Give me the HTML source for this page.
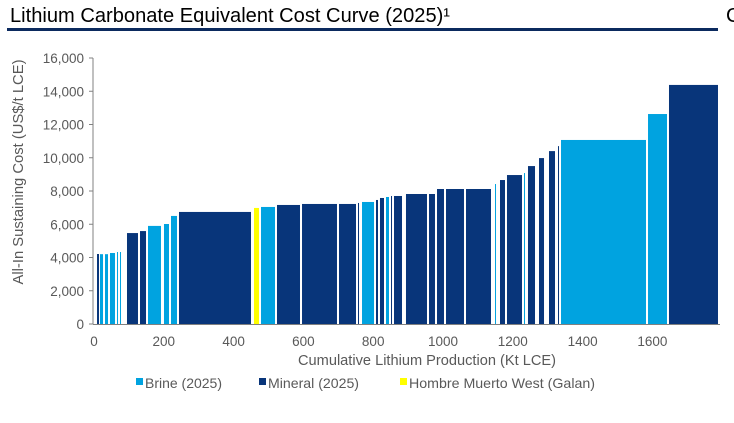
<!DOCTYPE html>
<html><head><meta charset="utf-8"><style>
body{margin:0;width:734px;height:418px;background:#fff;overflow:hidden;font-family:"Liberation Sans",sans-serif;}
</style></head><body>
<svg width="734" height="418" viewBox="0 0 734 418" xmlns="http://www.w3.org/2000/svg">
<text x="10" y="22" font-size="20" fill="#000" textLength="440" lengthAdjust="spacingAndGlyphs">Lithium Carbonate Equivalent Cost Curve (2025)¹</text>
<text x="726" y="22" font-size="20" fill="#000">C</text>
<rect x="7" y="28" width="711" height="3" fill="#0b2a5e"/>
<g id="bars"></g>
<g id="axes"></g>
<text transform="translate(23,172) rotate(-90)" text-anchor="middle" font-size="14.5" fill="#595959" textLength="225" lengthAdjust="spacingAndGlyphs">All-In Sustaining Cost (US$/t LCE)</text>
<text x="427" y="365" text-anchor="middle" font-size="14.5" fill="#595959" textLength="258" lengthAdjust="spacingAndGlyphs">Cumulative Lithium Production (Kt LCE)</text>
<g>
<g><rect x="136" y="378" width="7" height="7" fill="#00a3e0"/><text x="145" y="388" font-size="14" fill="#595959" textLength="77" lengthAdjust="spacingAndGlyphs">Brine (2025)</text></g>
<g><rect x="259" y="378" width="7" height="7" fill="#08357a"/><text x="268" y="388" font-size="14" fill="#595959" textLength="91" lengthAdjust="spacingAndGlyphs">Mineral (2025)</text></g>
<g><rect x="400" y="378" width="7" height="7" fill="#ffff00"/><text x="409" y="388" font-size="14" fill="#595959" textLength="186" lengthAdjust="spacingAndGlyphs">Hombre Muerto West (Galan)</text></g>
</g>
</svg>
<script>
const starts=[11.5,20,34.4,48.7,68.8,77.4,97.4,134.7,157.6,203.4,223.5,246.4,461.3,481.4,527.2,598.9,704.9,759.3,770.8,810.9,822.3,839.5,853.9,862.5,896.8,962.8,985.7,1011.5,1068.8,1151.9,1166.2,1186.2,1235,1246.4,1278,1306.6,1332.4,1341,1590.3,1650.4];
const widths=[5.7,8.7,8.6,14.3,2.8,2.8,31.5,17.2,37.2,14.4,17.2,206.3,14.3,40.1,65.9,100.2,48.7,2.9,34.4,5.7,11.5,8.6,2.8,22.9,60.2,17.1,20,51.5,71.6,2.8,14.3,43,2.8,20.1,14.3,17.2,2.8,243.5,54.4,140.4];
const costs=[4210,4200,4200,4270,4330,4330,5470,5590,5900,6015,6500,6740,6980,7040,7160,7220,7220,7280,7340,7460,7580,7640,7700,7700,7820,7820,8120,8120,8120,8420,8660,8960,9080,9500,9980,10400,10700,11070,12630,14380];
const types=["M","B","B","B","B","B","M","M","B","B","B","M","H","B","M","M","M","M","B","M","M","B","M","M","M","M","M","M","M","B","M","M","B","M","M","M","M","B","B","M"];
const yTicks=[0,2000,4000,6000,8000,10000,12000,14000,16000];
const xTicks=[0,200,400,600,800,1000,1200,1400,1600];
const NS="http://www.w3.org/2000/svg";
const X0=93,XS=0.349,Y0=324,YS=266/16000;
const xs=v=>X0+v*XS, ys=v=>Y0-v*YS;
const col={M:"#08357a",B:"#00a3e0",H:"#ffff00"};
const bars=document.getElementById("bars");
for(let i=0;i<costs.length;i++){
  const r=document.createElementNS(NS,"rect");
  r.setAttribute("x",xs(starts[i]));
  r.setAttribute("width",Math.max(1,widths[i]*XS));
  r.setAttribute("y",ys(costs[i]));
  r.setAttribute("height",Y0-ys(costs[i]));
  r.setAttribute("fill",col[types[i]]);
  
  
  bars.appendChild(r);
}
const ax=document.getElementById("axes");
function mk(tag,attrs,txt){const e=document.createElementNS(NS,tag);for(const k in attrs)e.setAttribute(k,attrs[k]);if(txt!==undefined)e.textContent=txt;ax.appendChild(e);return e;}
const yl=mk("line",{x1:X0,x2:X0,y1:ys(16000),y2:Y0,stroke:"#808080","stroke-width":1});


const xl=mk("line",{x1:X0,x2:720,y1:Y0+0.5,y2:Y0+0.5,stroke:"#808080","stroke-width":1});


yTicks.forEach(t=>{
  const tk=mk("line",{x1:X0-4,x2:X0,y1:ys(t),y2:ys(t),stroke:"#808080"});
  
  
  const tl=mk("text",{x:84,y:ys(t)+5,"text-anchor":"end","font-size":13.5,fill:"#595959"},t.toLocaleString("en-US"));
  
  
});
xTicks.forEach(t=>{
  const tl=mk("text",{x:xs(t)+1,y:346,"text-anchor":"middle","font-size":13.5,fill:"#595959"},String(t));
  
  
});
</script>
</body></html>
